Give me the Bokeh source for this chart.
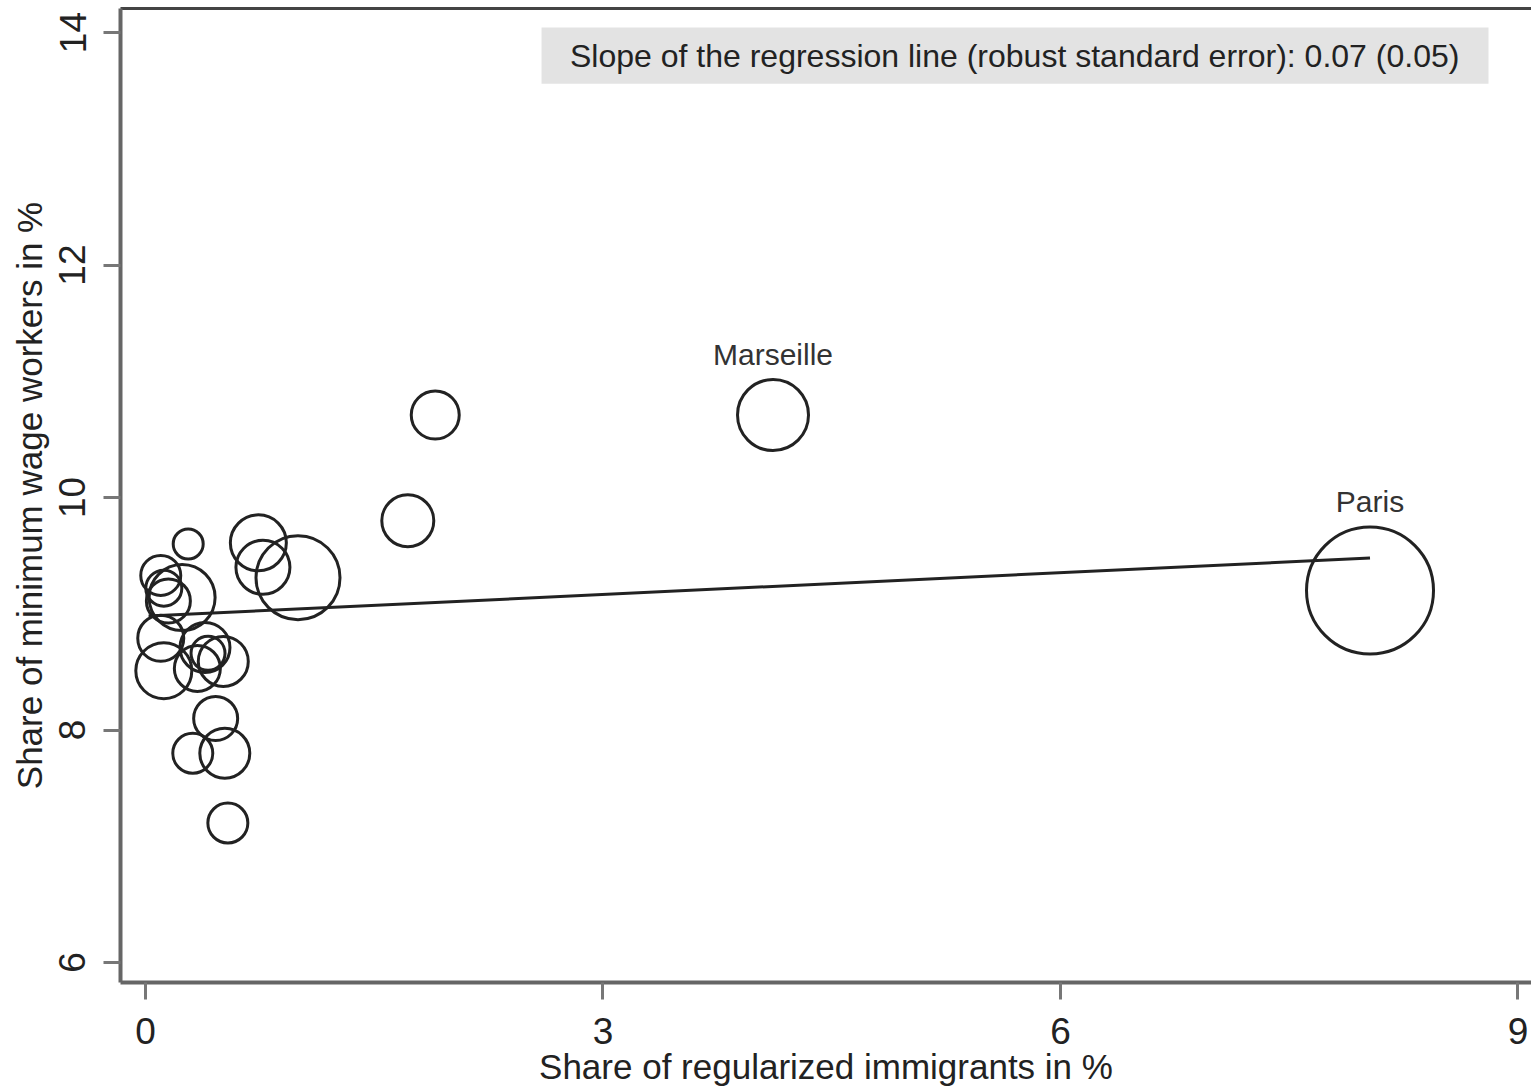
from bokeh.plotting import figure
from bokeh.models import ColumnDataSource, LinearAxis, FixedTicker, Range1d, BoxAnnotation, Label
from bokeh.core.properties import value
from bokeh.embed import file_html
from bokeh.resources import INLINE

# ---- data ----
share_regularized = [0.28, 0.74, 0.77, 1.00, 0.10, 0.12, 0.24, 0.15, 0.10, 0.39, 0.51,
                     0.34, 0.41, 0.12, 0.46, 0.31, 0.52, 0.54, 1.72, 1.90, 4.115, 8.03]
share_minwage = [9.60, 9.61, 9.40, 9.31, 9.33, 9.22, 9.14, 9.11, 8.79, 8.71, 8.59,
                 8.53, 8.66, 8.51, 8.10, 7.80, 7.80, 7.20, 9.80, 10.71, 10.71, 9.20]
weight_size = [30, 56, 54, 84, 40, 36, 66, 44, 46, 50, 50,
               46, 34, 56, 44, 40, 50, 40, 52, 48, 71, 127]
city_names = ["Marseille", "Paris"]
city_x = [4.115, 8.03]
city_y = [10.71, 9.20]
city_size = [71, 127]
reg_x = [0.02, 8.03]
reg_y = [8.98, 9.48]
x_ticks = [0, 3, 6, 9]
y_ticks = [6, 8, 10, 12, 14]
note = "Slope of the regression line (robust standard error): 0.07 (0.05)"

FONT = "Liberation Sans"

p = figure(width=1531, height=1088, output_backend="svg", toolbar_location=None,
           x_range=Range1d(-0.164, 9.089), y_range=Range1d(5.828, 14.207),
           min_border_left=120, min_border_right=0, min_border_top=8, min_border_bottom=0)
p.outline_line_color = None
p.grid.visible = False
p.background_fill_color = "white"

# axes
for ax in (p.xaxis[0], p.yaxis[0]):
    ax.axis_line_color = "#666666"
    ax.axis_line_width = 4
    ax.major_tick_line_color = "#777777"
    ax.major_tick_line_width = 3
    ax.major_tick_out = 17
    ax.major_tick_in = 0
    ax.minor_tick_line_color = None
    ax.major_label_text_font = FONT
    ax.major_label_text_font_size = "37px"
    ax.major_label_text_color = "#222222"
    ax.axis_label_text_font = FONT
    ax.axis_label_text_font_size = "35px"
    ax.axis_label_text_font_style = "normal"
    ax.axis_label_text_color = "#222222"

p.xaxis.ticker = FixedTicker(ticks=x_ticks)
p.yaxis.ticker = FixedTicker(ticks=y_ticks)
p.xaxis.axis_label = "Share of regularized immigrants in %"
p.yaxis.axis_label = "Share of minimum wage workers in %"
p.xaxis.major_label_standoff = 18
p.xaxis.axis_label_standoff = 0
p.yaxis.major_label_standoff = 18
p.yaxis.axis_label_standoff = 8
p.yaxis.major_label_orientation = "vertical"

top = LinearAxis(ticker=FixedTicker(ticks=[]), major_label_text_font_size="0px",
                 major_tick_out=0, major_tick_in=0, minor_tick_out=0, minor_tick_in=0,
                 axis_line_color="#444444", axis_line_width=3)
p.add_layout(top, "above")

# annotation box
p.add_layout(BoxAnnotation(left=2.597, right=8.807, bottom=13.56, top=14.043,
                           fill_color="#e3e3e3", fill_alpha=1, line_color=None, level="underlay"))
p.add_layout(Label(x=5.70, y=13.80, text=note, text_align="center", text_baseline="middle",
                   text_font=FONT, text_font_size="32px", text_color="#222222"))

# points
src = ColumnDataSource(dict(x=share_regularized, y=share_minwage, s=weight_size))
p.scatter("x", "y", size="s", source=src, marker="circle", fill_color=None,
          line_color="#222222", line_width=3)

# regression line
p.line(reg_x, reg_y, line_color="#222222", line_width=3)

# city labels
lab = ColumnDataSource(dict(x=city_x, y=city_y, t=city_names,
                            off=[-(s / 2 + 9) for s in city_size]))
p.text("x", "y", text="t", source=lab, y_offset="off", text_align="center",
       text_baseline="bottom", text_font=value(FONT), text_font_size="30px",
       text_color="#333333")

open("out.html", "w").write(file_html(p, INLINE))
